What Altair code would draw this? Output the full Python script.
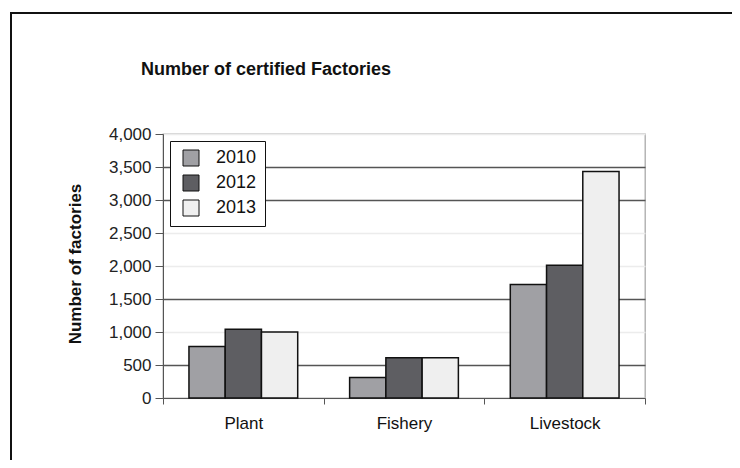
import altair as alt
import pandas as pd

categories = ["Plant", "Fishery", "Livestock"]
years = ["2010", "2012", "2013"]
values_2010 = [780, 310, 1720]
values_2012 = [1040, 610, 2010]
values_2013 = [1000, 610, 3430]
y_ticks = [0, 500, 1000, 1500, 2000, 2500, 3000, 3500, 4000]
strong_grid = [500, 1500, 3000, 3500]
colors = ["#a0a0a4", "#5e5e62", "#efefef"]

rows = []
for yr, vals in zip(years, [values_2010, values_2012, values_2013]):
    for c, v in zip(categories, vals):
        rows.append({"category": c, "year": yr, "value": v})
df = pd.DataFrame(rows)

FONT = "Liberation Sans, Arial, sans-serif"

grid_test = "indexof(" + str(strong_grid) + ", datum.value) >= 0"

bars = alt.Chart(df).mark_bar(stroke="#111111", strokeWidth=1.5).encode(
    x=alt.X("category:N", sort=categories,
            scale=alt.Scale(paddingInner=0, paddingOuter=0),
            axis=alt.Axis(title=None, labelAngle=0, labelFont=FONT, labelFontSize=17,
                          labelColor="#111111", labelPadding=11, tickBand="extent",
                          tickSize=6, tickColor="#555555", domainColor="#555555",
                          grid=False)),
    xOffset=alt.XOffset("year:N", sort=years,
                        scale=alt.Scale(paddingInner=0, paddingOuter=0.716)),
    y=alt.Y("value:Q", scale=alt.Scale(domain=[0, 4000]),
            axis=alt.Axis(title=None, values=y_ticks, format=",d", labelFont=FONT,
                          labelFontSize=17, labelColor="#222222", labelPadding=4,
                          tickSize=8, tickColor="#555555", domainColor="#555555",
                          gridColor={"condition": {"test": grid_test, "value": "#555555"},
                                     "value": "#ececec"},
                          gridWidth=1.3)),
    color=alt.Color("year:N", sort=years,
                    scale=alt.Scale(domain=years, range=colors),
                    legend=alt.Legend(title=None, orient="none", legendX=7, legendY=7,
                                      symbolType="square", symbolSize=256,
                                      symbolStrokeColor="#111111", symbolStrokeWidth=1,
                                      labelFont=FONT, labelFontSize=18,
                                      labelColor="#111111", rowPadding=5,
                                      labelOffset=16, strokeColor="#111111",
                                      fillColor="white", padding=8,
                                      symbolOffset=4)),
)

one = alt.Data(values=[{"t": "Number of certified Factories"}])

title = alt.Chart(one).mark_text(font=FONT, fontSize=18, fontWeight="bold",
                                  color="#111111").encode(
    text="t:N", x=alt.value(103), y=alt.value(-64))

ytitle = alt.Chart(alt.Data(values=[{"t": "Number of factories"}])).mark_text(
    font=FONT, fontSize=17, fontWeight="bold", angle=270, color="#111111").encode(
    text="t:N", x=alt.value(-87), y=alt.value(130))

frame_left = alt.Chart(alt.Data(values=[{"a": 1}])).mark_rule(
    color="#111111", strokeWidth=2).encode(
    x=alt.value(-152), y=alt.value(-122), y2=alt.value(330))
frame_top = alt.Chart(alt.Data(values=[{"a": 1}])).mark_rule(
    color="#111111", strokeWidth=2).encode(
    x=alt.value(-153), x2=alt.value(570), y=alt.value(-121))

chart = alt.layer(bars, title, ytitle, frame_left, frame_top).properties(
    width=482, height=264,
    autosize=alt.AutoSizeParams(type="none"),
    padding={"left": 155, "top": 126, "right": 87, "bottom": 62},
).configure_view(stroke="#aaaaaa", strokeWidth=1.3)

chart.save("out.html", embed_options={"renderer": "svg", "actions": False})
